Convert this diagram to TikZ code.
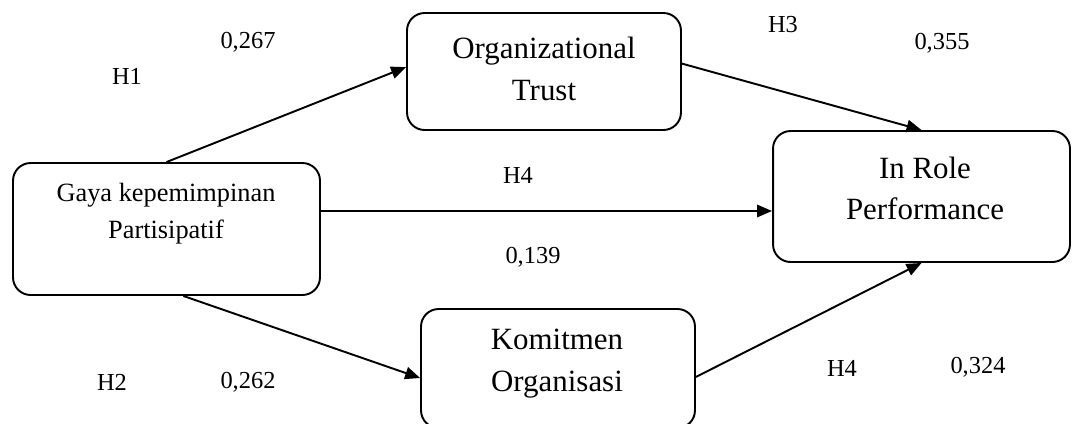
\documentclass[tikz,border=0pt]{standalone}
\usepackage{fontspec}
\setmainfont{Liberation Serif}
\usetikzlibrary{arrows.meta}

\begin{document}
\begin{tikzpicture}[x=0.02cm, y=-0.02cm,
  var/.style={draw, line width=1.1pt, rounded corners=10pt, minimum width=#1},
  vartxt/.style={inner sep=0pt, align=center,
               font=\fontsize{17.6}{23.8}\selectfont},
  coef/.style={inner sep=0pt, font=\fontsize{13.9}{16}\selectfont},
  jalur/.style={-{Triangle[length=8.5pt, width=7pt]}, line width=1.1pt}
]
  \useasboundingbox (0,0) rectangle (1072,423);
  % variabel
  \node[var=6.14cm, minimum height=2.64cm] (gaya) at (166.5,229) {};
  \node[vartxt, font=\fontsize{15}{21}\selectfont] (gayatxt) at (166,213.5)
        {Gaya kepemimpinan\\Partisipatif};
  \node[var=5.48cm, minimum height=2.34cm] (ot) at (544,71.5) {};
  \node[vartxt] (ottxt) at (544,69) {Organizational\\Trust};
  \node[var=5.94cm, minimum height=2.62cm] (ir) at (921.5,196.5) {};
  \node[vartxt] (irtxt) at (925,188.5) {In Role\\Performance};
  \node[var=5.48cm, minimum height=2.38cm] (kom) at (558,368.5) {};
  \node[vartxt] (komtxt) at (557,364) {Komitmen\\Organisasi};
  % jalur
  \draw[jalur] (gaya.north) -- ([yshift=2.5pt]ot.west);
  \draw[jalur] ([xshift=9.6pt]gaya.south) -- ([yshift=-5.4pt]kom.west);
  \draw[jalur] (gaya.east |- 0,211) -- (ir.west |- 0,211);
  \draw[jalur] ([yshift=4.5pt]ot.east) -- (ir.north);
  \draw[jalur] ([yshift=-4.8pt]kom.east) -- (ir.south);
  % hipotesis dan koefisien
  \node[coef] (h1) at (127,76) {H1};
  \node[coef] (k1) at (248,42) {0,267};
  \node[coef] (h2) at (112,382) {H2};
  \node[coef] (k2) at (248,382) {0,262};
  \node[coef] (h3) at (783,25) {H3};
  \node[coef] (k3) at (942,43) {0,355};
  \node[coef] (h4) at (518,175) {H4};
  \node[coef] (k4) at (533,257) {0,139};
  \node[coef] (h5) at (842,368) {H4};
  \node[coef] (k5) at (978,367) {0,324};
\end{tikzpicture}
\end{document}
